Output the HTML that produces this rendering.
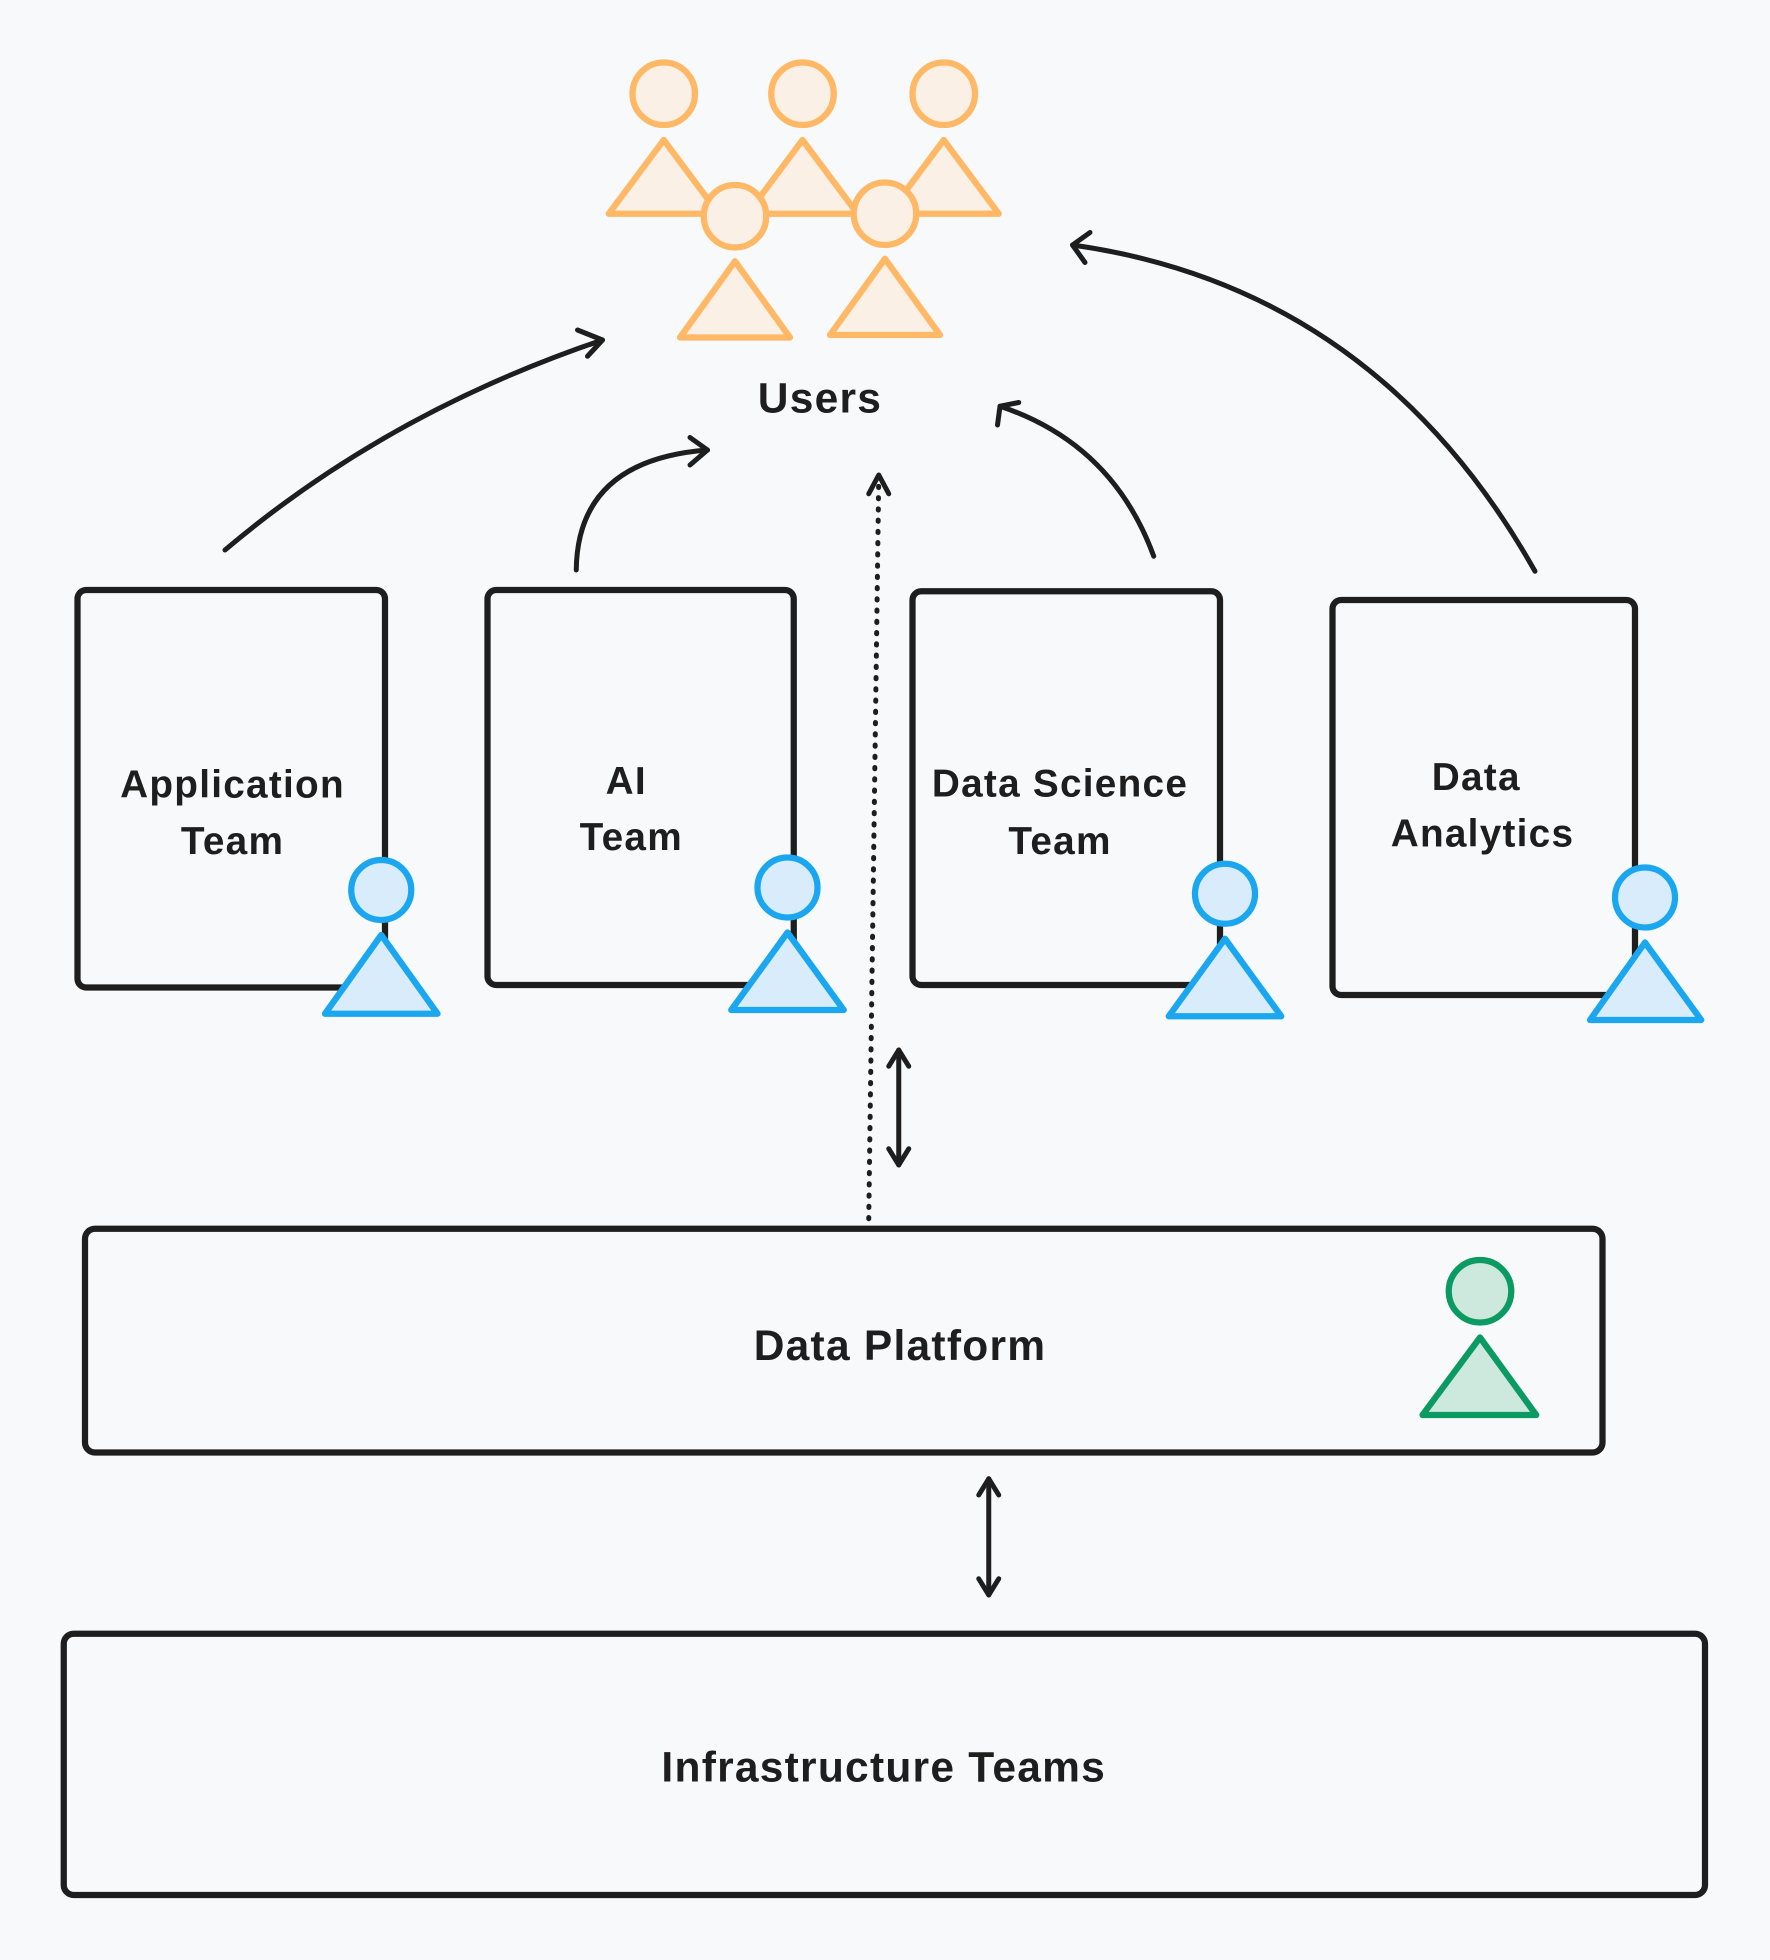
<!DOCTYPE html>
<html><head><style>html,body{margin:0;padding:0;background:#f8f9fb}svg{display:block}
text{font-family:"Liberation Sans",sans-serif;font-weight:bold;fill:#1e1e1e;text-anchor:middle;letter-spacing:1px}</style></head>
<body>
<svg width="1770" height="1960" viewBox="0 0 1416 1568" xmlns="http://www.w3.org/2000/svg">
<rect width="1416" height="1568" fill="#f8f9fb"/>
<defs>
<marker id="a" viewBox="0 0 20 20" refX="16" refY="10" markerWidth="8" markerHeight="8" orient="auto-start-reverse" markerUnits="userSpaceOnUse">
</marker>
</defs>
<g stroke="#ffb866" stroke-width="5" fill="#fbf0e6" stroke-linejoin="round">
<polygon points="487,171 531,112 575,171"/>
<polygon points="598,171 642,112 686,171"/>
<polygon points="711,171 755,112 799,171"/>
<circle cx="531" cy="75" r="25"/>
<circle cx="642" cy="75" r="25"/>
<circle cx="755" cy="75" r="25"/>
<polygon points="544,270 588,209 632,270"/>
<polygon points="664,268 708,207 752,268"/>
<circle cx="588" cy="173" r="25"/>
<circle cx="708" cy="171" r="25"/>
</g>
<text x="656" y="330" font-size="34">Users</text>
<g fill="none" stroke="#1e1e1e" stroke-width="5" stroke-linejoin="round">
<rect x="62" y="472" width="246" height="318" rx="7"/>
<rect x="390" y="472" width="245" height="316" rx="7"/>
<rect x="730" y="473" width="246" height="315" rx="7"/>
<rect x="1066" y="480" width="242" height="316" rx="7"/>
<rect x="68" y="983" width="1214" height="179" rx="8"/>
<rect x="51" y="1307" width="1313" height="209" rx="8"/>
</g>
<text x="186" y="638" font-size="31">Application</text>
<text x="186" y="683" font-size="31">Team</text>
<text x="501" y="635" font-size="31">AI</text>
<text x="505" y="680" font-size="31">Team</text>
<text x="848" y="637" font-size="31">Data Science</text>
<text x="848" y="683" font-size="31">Team</text>
<text x="1181" y="632" font-size="31">Data</text>
<text x="1186" y="677" font-size="31">Analytics</text>
<text x="720" y="1088" font-size="34">Data Platform</text>
<text x="707" y="1425" font-size="34">Infrastructure Teams</text>
<g stroke="#1aa7f0" stroke-width="5" fill="#d9ecfb" stroke-linejoin="round">
<polygon points="260,811 305,748 350,811"/><circle cx="305" cy="712" r="24"/>
<polygon points="585,808 630,746 675,808"/><circle cx="630" cy="710" r="24"/>
<polygon points="935,813 980,751 1025,813"/><circle cx="980" cy="715" r="24"/>
<polygon points="1272,816 1316,754 1361,816"/><circle cx="1316" cy="718" r="24"/>
</g>
<g stroke="#0c9a63" stroke-width="5" fill="#cde9de" stroke-linejoin="round">
<polygon points="1138,1132 1184,1070 1229,1132"/><circle cx="1184" cy="1033" r="25"/>
</g>
<g fill="none" stroke="#1e1e1e" stroke-width="4" stroke-linecap="round" stroke-linejoin="round">
<path d="M180,440 Q310,330 482,272"/><path d="M462,264 L482,272 L470,285"/>
<path d="M461,456 Q462,368 566,360"/><path d="M552,350 L566,360 L552,372"/>
<path d="M923,445 Q890,355 800,325"/><path d="M798,340 L800,325 L815,322"/>
<path d="M1228,457 Q1100,230 858,196"/><path d="M872,186 L858,196 L868,210"/>
<path d="M695,975 L703,382" stroke-dasharray="1 8"/><path d="M695,395 L703,380 L711,395"/>
<path d="M719,840 L719,932"/><path d="M711,853 L719,840 L727,853"/><path d="M711,919 L719,932 L727,919"/>
<path d="M791,1183 L791,1276"/><path d="M783,1196 L791,1183 L799,1196"/><path d="M783,1263 L791,1276 L799,1263"/>
</g>
</svg>
</body></html>
